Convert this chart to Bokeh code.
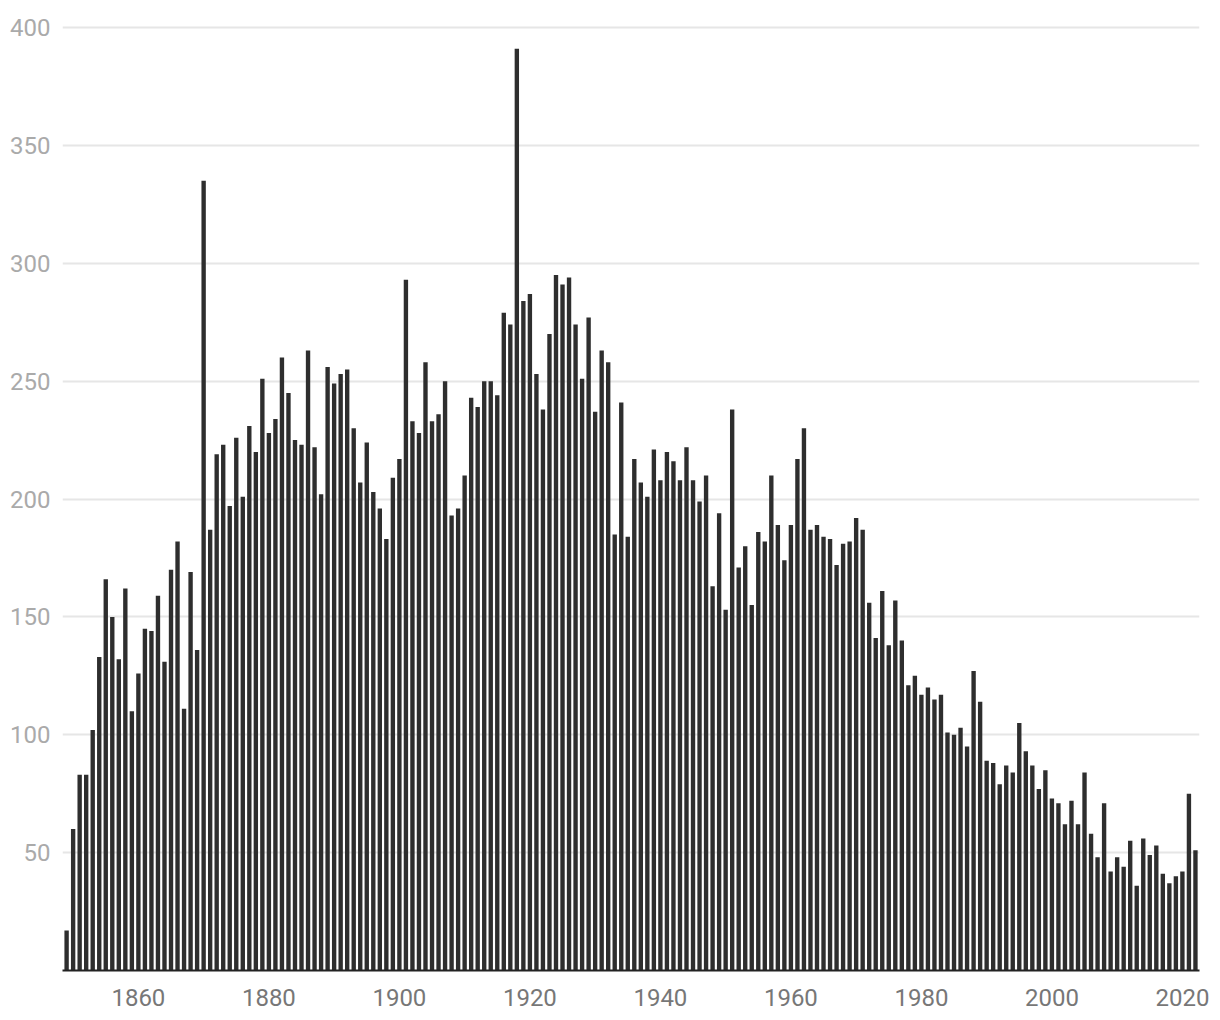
from bokeh.plotting import figure
from bokeh.models import ColumnDataSource, FixedTicker, Range1d
from bokeh.embed import file_html
from bokeh.resources import INLINE

years = list(range(1849, 2023))
counts = [
    17, 60, 83, 83, 102, 133, 166, 150, 132, 162, 110,            # 1849-1859
    126, 145, 144, 159, 131, 170, 182, 111, 169, 136,             # 1860-1869
    335, 187, 219, 223, 197, 226, 201, 231, 220, 251,             # 1870-1879
    228, 234, 260, 245, 225, 223, 263, 222, 202, 256,             # 1880-1889
    249, 253, 255, 230, 207, 224, 203, 196, 183, 209,             # 1890-1899
    217, 293, 233, 228, 258, 233, 236, 250, 193, 196,             # 1900-1909
    210, 243, 239, 250, 250, 244, 279, 274, 391, 284,             # 1910-1919
    287, 253, 238, 270, 295, 291, 294, 274, 251, 277,             # 1920-1929
    237, 263, 258, 185, 241, 184, 217, 207, 201, 221,             # 1930-1939
    208, 220, 216, 208, 222, 208, 199, 210, 163, 194,             # 1940-1949
    153, 238, 171, 180, 155, 186, 182, 210, 189, 174,             # 1950-1959
    189, 217, 230, 187, 189, 184, 183, 172, 181, 182,             # 1960-1969
    192, 187, 156, 141, 161, 138, 157, 140, 121, 125,             # 1970-1979
    117, 120, 115, 117, 101, 100, 103, 95, 127, 114,              # 1980-1989
    89, 88, 79, 87, 84, 105, 93, 87, 77, 85,                      # 1990-1999
    73, 71, 62, 72, 62, 84, 58, 48, 71, 42,                       # 2000-2009
    48, 44, 55, 36, 56, 49, 53, 41, 37, 40,                       # 2010-2019
    42, 75, 51,                                                   # 2020-2022
]
x_ticks = [1860, 1880, 1900, 1920, 1940, 1960, 1980, 2000, 2020]
y_ticks = [50, 100, 150, 200, 250, 300, 350, 400]

source = ColumnDataSource(data=dict(year=years, count=counts))

p = figure(
    width=1212, height=1012,
    output_backend="svg", toolbar_location=None,
    x_range=Range1d(1848.37, 2022.62),
    y_range=Range1d(0, 403.0),
    min_border_left=62, min_border_right=13,
    min_border_top=20, min_border_bottom=42,
)
p.outline_line_color = None
p.background_fill_color = "white"
p.border_fill_color = "white"

p.vbar(x="year", top="count", bottom=0, width=0.67, source=source,
       fill_color="#2e2e2e", line_color=None)

# axes
p.xaxis.ticker = FixedTicker(ticks=x_ticks)
p.yaxis.ticker = FixedTicker(ticks=y_ticks)
for ax in (p.xaxis, p.yaxis):
    ax.major_tick_line_color = None
    ax.minor_tick_line_color = None
    ax.major_label_text_font = "Roboto"
    ax.major_label_text_font_size = "24px"
p.xaxis.major_label_standoff = 12
p.yaxis.major_label_standoff = 6
p.yaxis.axis_line_color = None
p.yaxis.major_label_text_color = "#aaaaaa"
p.xaxis.major_label_text_color = "#777777"
p.xaxis.axis_line_color = "#222222"
p.xaxis.axis_line_width = 2

p.xgrid.grid_line_color = None
p.ygrid.grid_line_color = "#e6e6e6"
p.ygrid.grid_line_width = 2

open("out.html", "w").write(file_html(p, INLINE))
